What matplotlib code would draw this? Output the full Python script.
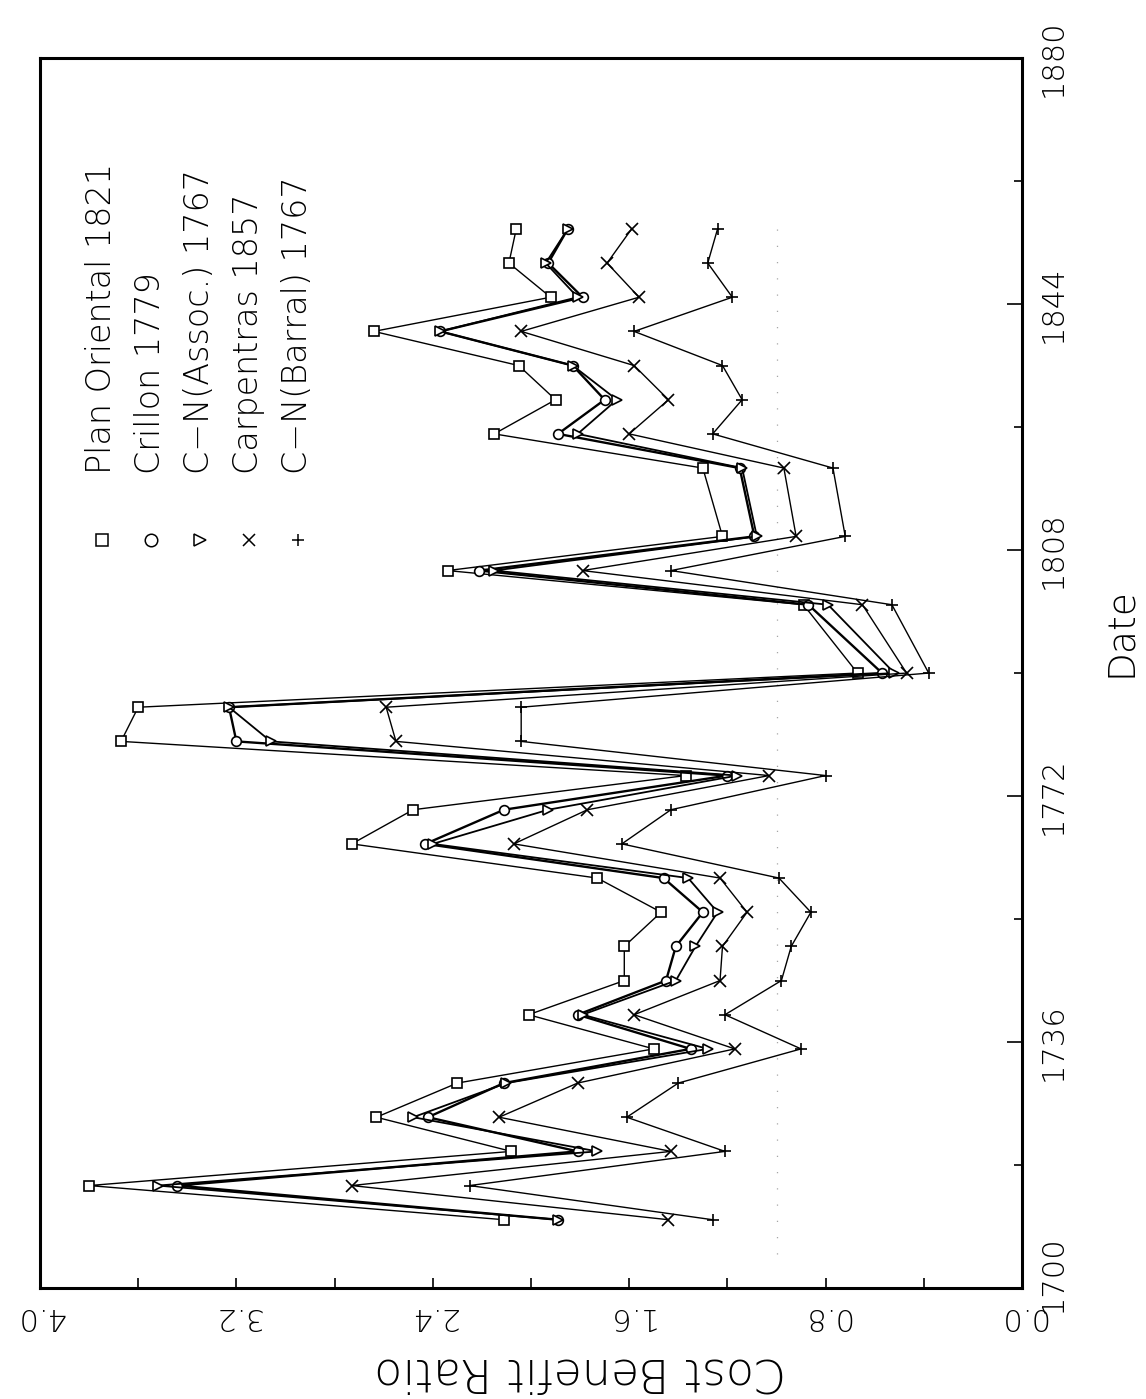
import matplotlib
matplotlib.use('Agg')
from matplotlib import pyplot as plt, transforms as mtransforms
from matplotlib.ticker import MultipleLocator, FixedLocator

# survey dates (5-year steps, 1795 and 1815 missing)
dates = [1710, 1715, 1720, 1725, 1730, 1735, 1740, 1745, 1750, 1755,
         1760, 1765, 1770, 1775, 1780, 1785, 1790, 1800, 1805, 1810,
         1820, 1825, 1830, 1835, 1840, 1845, 1850, 1855]

plan_oriental = [2.11, 3.80, 2.08, 2.63, 2.30, 1.50, 2.01, 1.62, 1.62, 1.47,
                 1.73, 2.73, 2.48, 1.37, 3.67, 3.60, 0.67, 0.89, 2.34, 1.22,
                 1.30, 2.15, 1.90, 2.05, 2.64, 1.92, 2.09, 2.06]
crillon = [1.89, 3.44, 1.81, 2.42, 2.11, 1.35, 1.81, 1.45, 1.41, 1.30,
           1.46, 2.43, 2.11, 1.20, 3.20, 3.23, 0.57, 0.87, 2.21, 1.09,
           1.15, 1.89, 1.70, 1.83, 2.37, 1.79, 1.93, 1.85]
cn_assoc = [1.89, 3.52, 1.73, 2.48, 2.10, 1.28, 1.79, 1.41, 1.33, 1.24,
            1.36, 2.40, 1.93, 1.16, 3.06, 3.23, 0.52, 0.79, 2.15, 1.08,
            1.14, 1.81, 1.65, 1.83, 2.37, 1.81, 1.94, 1.85]
carpentras = [1.44, 2.73, 1.43, 2.13, 1.81, 1.17, 1.58, 1.23, 1.22, 1.12,
              1.23, 2.07, 1.77, 1.03, 2.55, 2.59, 0.47, 0.65, 1.79, 0.92,
              0.97, 1.60, 1.44, 1.58, 2.04, 1.56, 1.69, 1.59]
cn_barral = [1.26, 2.25, 1.21, 1.61, 1.40, 0.90, 1.21, 0.98, 0.94, 0.86,
             0.99, 1.63, 1.43, 0.80, 2.04, 2.04, 0.38, 0.53, 1.43, 0.72,
             0.77, 1.26, 1.14, 1.22, 1.58, 1.18, 1.28, 1.24]

date_ticks = [1700, 1736, 1772, 1808, 1844, 1880]
date_minor = [1718, 1754, 1790, 1826, 1862]

labels = ['Plan Oriental 1821', 'Crillon 1779', 'C\u2212N(Assoc.) 1767',
          'Carpentras 1857', 'C\u2212N(Barral) 1767']
markers = ['s', 'o', '>', 'x', '+']
series = [plan_oriental, crillon, cn_assoc, carpentras, cn_barral]
widths = [1.0, 1.7, 1.3, 1.0, 1.0]

TICK_FONTSIZE = 22
XLABEL_FONTSIZE = 33
YLABEL_FONTSIZE = 27
LEGEND_FONTSIZE = 24

plt.rcParams['font.family'] = ['DejaVu Sans']
plt.rcParams['font.weight'] = 'light'
plt.rcParams['axes.labelweight'] = 'light'

fig = plt.figure(figsize=(11.46, 13.99), dpi=100)
ax = fig.add_axes([0.0349, 0.0793, 0.8569, 0.8792])

# the whole chart is drawn turned a quarter: ratio runs right->left, dates bottom->top
ax.vlines(1.0, 1705, 1857, colors='0.65', linewidth=0.9, linestyles=(0, (1, 12)))

for vals, m, lw in zip(series, markers, widths):
    ax.plot(vals, dates, color='black', linewidth=lw, marker=m,
            markersize=7 if m in ('s', 'o', '>') else 9,
            markerfacecolor='white', markeredgecolor='black',
            markeredgewidth=1.2)

ax.set_xlim(4.0, 0.0)
ax.set_ylim(1700, 1880)

ax.xaxis.set_major_locator(MultipleLocator(0.8))
ax.xaxis.set_minor_locator(MultipleLocator(0.4))
ax.yaxis.set_major_locator(FixedLocator(date_ticks))
ax.yaxis.set_minor_locator(FixedLocator(date_minor))
ax.xaxis.set_major_formatter(lambda v, p: '%.1f' % abs(v))
ax.yaxis.set_major_formatter(lambda v, p: '%d' % v)

ax.yaxis.tick_right()
ax.tick_params(axis='x', which='both', direction='in', top=False,
               length=7, width=1.2, pad=10, labelsize=TICK_FONTSIZE,
               labelrotation=180)
ax.tick_params(axis='y', which='major', direction='in', left=False,
               length=11, width=1.2, pad=12, labelsize=TICK_FONTSIZE,
               labelrotation=90)
ax.tick_params(axis='y', which='minor', direction='in', left=False,
               length=6, width=1.2)

fig.canvas.draw()
for lab in ax.get_yticklabels():
    lab.set_verticalalignment('center')
# lift the 1700 label a little so it clears the 0.0 label below it
lift = mtransforms.ScaledTranslation(0, 14 / 100, fig.dpi_scale_trans)
ytl = ax.yaxis.get_major_ticks()
ytl[0].label2.set_transform(ytl[0].label2.get_transform() + lift)

for s in ax.spines.values():
    s.set_linewidth(2.2)

ax.set_xlabel('Cost Benefit Ratio', fontsize=XLABEL_FONTSIZE, rotation=180)
ax.xaxis.set_label_coords(0.55, -0.05)
ax.yaxis.set_label_position('right')
ax.set_ylabel('Date', fontsize=YLABEL_FONTSIZE, rotation=90, va='center')
ax.yaxis.set_label_coords(1.1, 0.533)

# hand-made legend, turned like the rest of the page
for i, (lab, m) in enumerate(zip(labels, markers)):
    xa = 0.063 + i * 0.0499
    ax.plot([xa], [0.608], transform=ax.transAxes, linestyle='none',
            marker=m, markersize=9, markerfacecolor='white',
            markeredgecolor='black', markeredgewidth=1.1, clip_on=False)
    ax.text(xa, 0.662, lab, transform=ax.transAxes, rotation=90,
            ha='center', va='bottom', fontsize=LEGEND_FONTSIZE)

fig.savefig('out.png', dpi=100)
